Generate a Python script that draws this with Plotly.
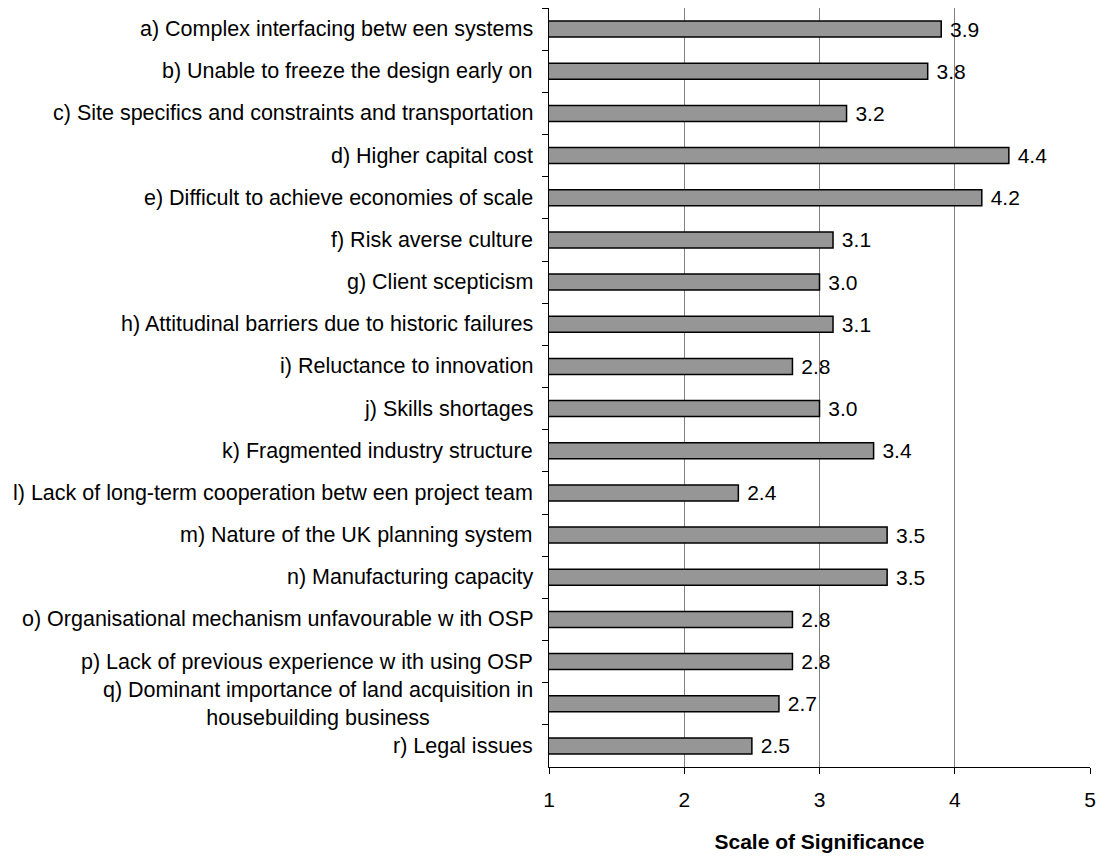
import plotly.graph_objects as go

categories = [
    "a) Complex interfacing betw een systems",
    "b) Unable to freeze the design early on",
    "c) Site specifics and constraints and transportation",
    "d) Higher capital cost",
    "e) Difficult to achieve economies of scale",
    "f) Risk averse culture",
    "g) Client scepticism",
    "h) Attitudinal barriers due to historic failures",
    "i) Reluctance to innovation",
    "j) Skills shortages",
    "k) Fragmented industry structure",
    "l) Lack of long-term cooperation betw een project team",
    "m) Nature of the UK planning system",
    "n) Manufacturing capacity",
    "o) Organisational mechanism unfavourable w ith OSP",
    "p) Lack of previous experience w ith using OSP",
    "q) Dominant importance of land acquisition in<br>housebuilding business",
    "r) Legal issues",
]
scores = [3.9, 3.8, 3.2, 4.4, 4.2, 3.1, 3.0, 3.1, 2.8, 3.0,
          3.4, 2.4, 3.5, 3.5, 2.8, 2.8, 2.7, 2.5]
x_ticks = [1, 2, 3, 4, 5]
x_title = "Scale of Significance"

FONT = "Liberation Sans, Arial, sans-serif"
FS = 21.5

fig = go.Figure(
    go.Bar(
        y=categories,
        x=scores,
        orientation="h",
        width=0.38,
        marker=dict(color="#969696", line=dict(color="black", width=1.5)),
        text=[f" {v:.1f}" for v in scores],
        textposition="outside",
        constraintext="none",
        textfont=dict(family=FONT, size=21, color="black"),
        hoverinfo="skip",
    )
)

# category labels as annotations so the wrapped label is centred line by line
for cat in categories:
    fig.add_annotation(
        x=0, xref="paper", y=cat, yref="y",
        text=cat, showarrow=False,
        xanchor="right", yanchor="middle", align="center",
        xshift=-14,
        font=dict(family=FONT, size=FS, color="black"),
    )

fig.update_layout(
    width=1107, height=857,
    margin=dict(l=549, r=17, t=8, b=90),
    paper_bgcolor="white", plot_bgcolor="white",
    showlegend=False,
    font=dict(family=FONT, size=FS, color="black"),
    xaxis=dict(
        range=[1, 5],
        tickvals=x_ticks,
        automargin=False,
        ticks="outside", ticklen=6, tickcolor="black",
        ticklabelstandoff=8,
        showline=True, linecolor="black", linewidth=1,
        showgrid=True, gridcolor="#808080", gridwidth=1,
        zeroline=False,
        tickfont=dict(family=FONT, size=21, color="black"),
        title=dict(text="<b>" + x_title + "</b>",
                   font=dict(family=FONT, size=21, color="black"),
                   standoff=24),
    ),
    yaxis=dict(
        type="category",
        categoryorder="array", categoryarray=categories,
        autorange="reversed",
        automargin=False,
        tickson="boundaries",
        ticks="outside", ticklen=6, tickcolor="black",
        showline=True, linecolor="black", linewidth=1,
        showgrid=False, zeroline=False,
        showticklabels=False,
    ),
)

fig.write_html("out.html")
